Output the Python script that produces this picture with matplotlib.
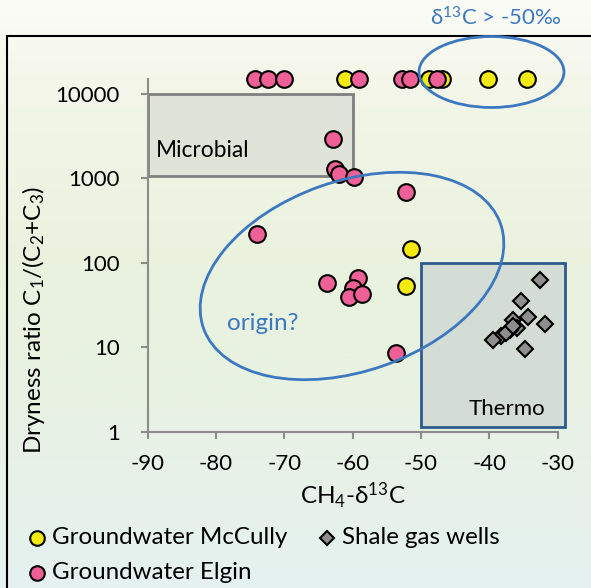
import numpy as np
import matplotlib.pyplot as plt
from matplotlib.patches import Rectangle, Ellipse
from matplotlib.lines import Line2D
from matplotlib.colors import LinearSegmentedColormap

plt.rcParams['font.family'] = ['Lato', 'DejaVu Sans']
plt.rcParams['mathtext.fontset'] = 'custom'
plt.rcParams['mathtext.rm'] = 'Lato'
plt.rcParams['mathtext.it'] = 'Lato:italic'
plt.rcParams['mathtext.bf'] = 'Lato:bold'

# groundwater McCully (yellow)
mccully_x = [-61.1, -48.9, -47.0, -40.2, -34.5, -51.5, -52.2]
mccully_y = [15000, 15000, 15000, 15000, 15000, 145, 53]

# groundwater Elgin (pink)
elgin_x = [-74.3, -72.4, -70.0, -59.1, -52.8, -51.6, -47.7,
           -62.9, -62.6, -62.0, -59.8, -52.2, -74.0,
           -63.8, -59.2, -59.9, -60.6, -58.7, -53.6]
elgin_y = [15000, 15000, 15000, 15000, 15000, 15000, 15000,
           2940, 1300, 1130, 1030, 700, 222,
           58, 66, 50, 40, 43, 8.6]

# shale gas wells (grey diamonds)
shale_x = [-32.6, -35.3, -34.4, -31.8, -36.5, -36.0, -37.0, -38.3, -39.5, -34.8, -37.5, -36.6]
shale_y = [63, 35, 23, 18.8, 21, 17.2, 16, 13.6, 12.4, 9.7, 15, 18]

x_ticks = [-90, -80, -70, -60, -50, -40, -30]
y_ticks = [1, 10, 100, 1000, 10000]

yellow = "#f3ea10"
pink = "#ef6096"
grey = "#8e8e8e"
blue = "#3b78c0"

W, H = 591, 588
fig = plt.figure(figsize=(W / 100, H / 100), dpi=100)

# background gradient
bg = fig.add_axes([0, 0, 1, 1], zorder=-10)
cmap = LinearSegmentedColormap.from_list(
    "bg", [(0, "#e4f1ef"), (0.3, "#e8f2e4"), (0.55, "#eaf2de"), (0.85, "#f3f6e8"), (1, "#fcfcf7")])
grad = np.linspace(0, 1, 256).reshape(-1, 1)
bg.imshow(grad, cmap=cmap, aspect="auto", extent=[0, 1, 0, 1], origin="lower")
bg.axis("off")

ax = fig.add_axes([147.7 / W, 1 - 432 / H, 410 / W, 353 / H])
ax.patch.set_alpha(0)
ax.set_yscale("log")
ax.set_xlim(-90, -30)
ax.set_ylim(1, 15000)

# zones
ax.add_patch(Rectangle((-90, 1080), 30, 10000 - 1080, fc="#e0e3d8", ec="#7f7f7f", lw=2, zorder=1))
ax.add_patch(Rectangle((-50, 1.155), 21, 100 - 1.155, fc="#d3dcd5", ec="#2d5a8c", lw=2,
                       zorder=1, clip_on=False))
ax.text(-88.8, 2135, "Microbial", fontsize=16.4, va="center", ha="left")
ax.text(-37.4, 1.87, "Thermo", fontsize=16, va="center", ha="center")

ax.plot(shale_x, shale_y, "D", ms=8.5, mfc=grey, mec="black", mew=1.5, ls="none", zorder=3)
ax.plot(mccully_x, mccully_y, "o", ms=12, mfc=yellow, mec="black", mew=1.5, ls="none",
        zorder=3, clip_on=False)
ax.plot(elgin_x, elgin_y, "o", ms=12, mfc=pink, mec="black", mew=1.5, ls="none",
        zorder=4, clip_on=False)

ax.set_xticks(x_ticks)
ax.set_xticklabels([str(v) for v in x_ticks])
ax.set_yticks(y_ticks)
ax.set_yticklabels([str(v) for v in y_ticks])
ax.minorticks_off()
ax.tick_params(axis="both", direction="out", length=5, width=1.5, color="#8c8c8c",
               labelsize=16)
ax.tick_params(axis="y", pad=15)
ax.tick_params(axis="x", pad=11)
for s in ["top", "right"]:
    ax.spines[s].set_visible(False)
for s in ["left", "bottom"]:
    ax.spines[s].set_color("#8c8c8c")
    ax.spines[s].set_linewidth(1.5)

ax.set_xlabel("CH$_{\\mathrm{4}}$-δ$^{\\mathrm{13}}$C", fontsize=17.5, labelpad=5)
fig.text(34 / W, 1 - 320 / H, "Dryness ratio C$_{\\mathrm{1}}$/(C$_{\\mathrm{2}}$+C$_{\\mathrm{3}}$)",
         rotation=90, fontsize=17.5, ha="center", va="center")

# outer frame
fig.add_artist(Rectangle((7 / W, -0.05), 1.1, 1 - 36 / H + 0.05, transform=fig.transFigure,
                         fill=False, ec="black", lw=1.5))

# ellipses and notes
fig.add_artist(Ellipse((491.5 / W, 1 - 72 / H), 145 / W, 71 / H, transform=fig.transFigure,
                       fill=False, ec=blue, lw=2))
fig.add_artist(Ellipse((352 / W, 1 - 276 / H), 315 / W, 190 / H, angle=19.5,
                       transform=fig.transFigure, fill=False, ec=blue, lw=2))
fig.text(496 / W, 1 - 18 / H, "δ$^{\\mathrm{13}}$C > -50‰", color=blue, fontsize=16,
         ha="center", va="center")
fig.text(263 / W, 1 - 323 / H, "origin?", color=blue, fontsize=17.5, ha="center", va="center")

# legend
legend_items = [
    (36.7, 538, "o", yellow, 10.5, "Groundwater McCully"),
    (327, 538, "D", grey, 7.5, "Shale gas wells"),
    (36.7, 572.7, "o", pink, 10.5, "Groundwater Elgin"),
]
for lx, ly, mk, col, size, lab in legend_items:
    fig.add_artist(Line2D([lx / W], [1 - ly / H], marker=mk, ms=size, mfc=col, mec="black",
                          mew=1.5, transform=fig.transFigure))
    fig.text((lx + 15) / W, 1 - ly / H, lab, fontsize=17.4, ha="left", va="center")

fig.savefig("out.png", dpi=100)
